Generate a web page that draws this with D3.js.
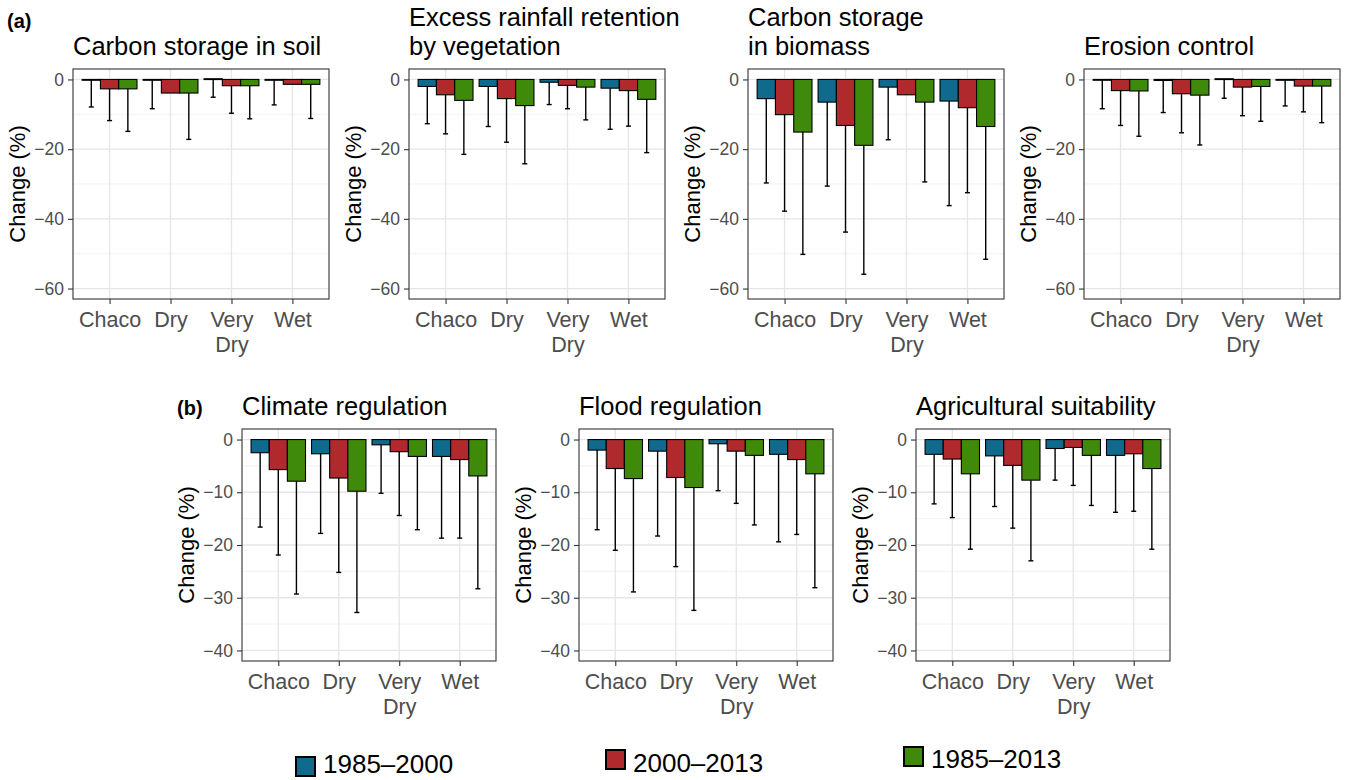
<!DOCTYPE html>
<html>
<head>
<meta charset="utf-8">
<script src="https://cdn.jsdelivr.net/npm/d3@7"></script>
<style>
    body { margin: 0; background: #fff; }
    svg { display: block; font-family: "Liberation Sans", Arial, sans-serif; }
</style>
</head>
<body>
<svg id="grafico" width="1345" height="780"></svg>
<script>
// categorias y periodos
var regions = ["Chaco", "Dry", "Very Dry", "Wet"];
var periods = ["1985–2000", "2000–2013", "1985–2013"];
var periodColors = ["#0f6a8e", "#b0292d", "#408a0b"];

// valores: una fila por region, [1985-2000, 2000-2013, 1985-2013]
var soilMean = [[-0.1, -2.7, -2.7], [-0.1, -3.9, -3.9], [0.2, -1.8, -1.8], [-0.1, -1.4, -1.4]];
var soilLow = [[-7.9, -11.8, -14.9], [-8.4, -3.9, -17.2], [-5.1, -9.7, -11.3], [-7.3, -1.4, -11.2]];

var rainMean = [[-2.0, -4.4, -6.0], [-2.0, -5.5, -7.5], [-0.8, -1.7, -2.2], [-2.5, -3.2, -5.7]];
var rainLow = [[-12.7, -15.6, -21.5], [-13.5, -18.0, -24.2], [-7.2, -8.4, -11.6], [-14.3, -13.4, -21.0]];

var biomassMean = [[-5.5, -10.1, -15.1], [-6.5, -13.2, -18.9], [-2.2, -4.4, -6.5], [-6.2, -8.1, -13.5]];
var biomassLow = [[-29.7, -37.8, -50.2], [-30.6, -43.8, -55.9], [-17.3, -4.4, -29.4], [-36.2, -32.5, -51.6]];

var erosionMean = [[-0.1, -3.2, -3.3], [-0.3, -4.1, -4.5], [0.2, -2.2, -2.0], [-0.1, -1.9, -1.9]];
var erosionLow = [[-8.4, -13.2, -16.3], [-9.5, -15.3, -18.8], [-5.4, -10.4, -12.0], [-7.6, -9.3, -12.4]];

var climateMean = [[-2.5, -5.7, -7.9], [-2.7, -7.3, -9.8], [-1.0, -2.3, -3.2], [-3.2, -3.8, -6.9]];
var climateLow = [[-16.6, -21.9, -29.3], [-17.8, -25.2, -32.8], [-10.2, -14.4, -17.1], [-18.7, -18.7, -28.3]];

var floodMean = [[-2.0, -5.5, -7.4], [-2.2, -7.2, -9.1], [-0.8, -2.2, -3.0], [-2.8, -3.8, -6.5]];
var floodLow = [[-17.1, -21.0, -28.9], [-18.3, -24.1, -32.4], [-9.7, -12.1, -16.2], [-19.4, -18.0, -28.1]];

var agriMean = [[-2.8, -3.7, -6.5], [-3.1, -4.9, -7.7], [-1.7, -1.5, -3.0], [-3.0, -2.7, -5.5]];
var agriLow = [[-12.2, -14.8, -20.8], [-12.7, -16.8, -23.0], [-7.7, -8.7, -12.5], [-13.8, -13.6, -20.8]];

// ejes Y de cada fila
var ticksA = [0, -20, -40, -60];
var minorA = [-10, -30, -50];
var ticksB = [0, -10, -20, -30, -40];
var minorB = [-5, -15, -25, -35];

var svg = d3.select("#grafico");

// configuracion de los paneles (posicion y estilo aparte de los datos)
var rowA = { top: 69, height: 230, width: 256, domain: [-63, 3], major: ticksA, minor: minorA };
var rowB = { top: 429, height: 232, width: 254, domain: [-42, 2], major: ticksB, minor: minorB };

var panels = [
    { row: rowA, left: 73, title: ["Carbon storage in soil"], mean: soilMean, low: soilLow },
    { row: rowA, left: 409, title: ["Excess rainfall retention", "by vegetation"], mean: rainMean, low: rainLow },
    { row: rowA, left: 748, title: ["Carbon storage", "in biomass"], mean: biomassMean, low: biomassLow },
    { row: rowA, left: 1084, title: ["Erosion control"], mean: erosionMean, low: erosionLow },
    { row: rowB, left: 242, title: ["Climate regulation"], mean: climateMean, low: climateLow },
    { row: rowB, left: 579, title: ["Flood regulation"], mean: floodMean, low: floodLow },
    { row: rowB, left: 916, title: ["Agricultural suitability"], mean: agriMean, low: agriLow }
];

function drawPanel(p) {
    var top = p.row.top, h = p.row.height, w = p.row.width, left = p.left;
    var g = svg.append("g");

    var y = d3.scaleLinear().domain(p.row.domain).range([top + h, top]);
    var x = d3.scalePoint().domain(regions).range([left, left + w]).padding(0.6);
    var step = x.step();
    var xp = d3.scaleBand().domain(periods).range([-0.45 * step, 0.45 * step]);

    // lineas de la grilla
    g.selectAll(".minor").data(p.row.minor).enter().append("line")
        .attr("x1", left).attr("x2", left + w)
        .attr("y1", function (d) { return y(d); }).attr("y2", function (d) { return y(d); })
        .attr("stroke", "#ececec").attr("stroke-width", 0.7);
    g.selectAll(".major").data(p.row.major).enter().append("line")
        .attr("x1", left).attr("x2", left + w)
        .attr("y1", function (d) { return y(d); }).attr("y2", function (d) { return y(d); })
        .attr("stroke", "#e6e6e6").attr("stroke-width", 1.3);
    g.selectAll(".vgrid").data(regions).enter().append("line")
        .attr("x1", function (d) { return x(d); }).attr("x2", function (d) { return x(d); })
        .attr("y1", top).attr("y2", top + h)
        .attr("stroke", "#e6e6e6").attr("stroke-width", 1.3);

    // barras
    var bars = [];
    regions.forEach(function (r, i) {
        periods.forEach(function (per, j) {
            bars.push({ region: r, period: per, k: j, value: p.mean[i][j], low: p.low[i][j] });
        });
    });

    g.selectAll(".bar").data(bars).enter().append("rect")
        .attr("x", function (d) { return x(d.region) + xp(d.period); })
        .attr("width", xp.bandwidth())
        .attr("y", function (d) { return y(Math.max(d.value, 0)); })
        .attr("height", function (d) { return Math.max(Math.abs(y(d.value) - y(0)), 0.8); })
        .attr("fill", function (d) { return periodColors[d.k]; })
        .attr("stroke", "#000").attr("stroke-width", 1.1);

    // barras de error (solo hacia abajo)
    var errs = bars.filter(function (d) { return d.low < d.value; });
    var cx = function (d) { return x(d.region) + xp(d.period) + xp.bandwidth() / 2; };
    g.selectAll(".err").data(errs).enter().append("line")
        .attr("x1", cx).attr("x2", cx)
        .attr("y1", function (d) { return y(d.value); })
        .attr("y2", function (d) { return y(d.low); })
        .attr("stroke", "#000").attr("stroke-width", 1.4);
    g.selectAll(".cap").data(errs).enter().append("line")
        .attr("x1", function (d) { return cx(d) - 2.5; })
        .attr("x2", function (d) { return cx(d) + 2.5; })
        .attr("y1", function (d) { return y(d.low); })
        .attr("y2", function (d) { return y(d.low); })
        .attr("stroke", "#000").attr("stroke-width", 1.4);

    // borde del panel
    g.append("rect")
        .attr("x", left).attr("y", top).attr("width", w).attr("height", h)
        .attr("fill", "none").attr("stroke", "#444").attr("stroke-width", 1.2);

    // eje Y
    var ay = g.append("g")
        .attr("transform", "translate(" + left + ",0)")
        .call(d3.axisLeft(y).tickValues(p.row.major).tickSize(5).tickPadding(4));
    ay.select(".domain").remove();
    ay.selectAll("line").attr("stroke", "#333").attr("stroke-width", 1.1);
    ay.selectAll("text").attr("fill", "#4d4d4d").style("font-size", "17.5px").style("font-family", null);

    // eje X
    var ax = g.append("g")
        .attr("transform", "translate(0," + (top + h) + ")")
        .call(d3.axisBottom(x).tickSize(5));
    ax.select(".domain").remove();
    ax.selectAll("line").attr("stroke", "#333").attr("stroke-width", 1.1);
    ax.selectAll("text").each(function (d) {
        var t = d3.select(this).text(null).attr("y", null).attr("dy", null)
            .attr("fill", "#4d4d4d").style("font-size", "21.5px").style("font-family", null);
        d.split(" ").forEach(function (word, k) {
            t.append("tspan").attr("x", 0).attr("y", 28 + k * 24.5).text(word);
        });
    });

    // titulo del eje Y
    g.append("text")
        .attr("transform", "translate(" + (left - 48.5) + "," + (top + h / 2) + ") rotate(-90)")
        .attr("text-anchor", "middle")
        .style("font-size", "22px")
        .text("Change (%)");

    // titulo del panel
    var n = p.title.length;
    p.title.forEach(function (line, k) {
        g.append("text")
            .attr("x", left)
            .attr("y", top - 14 - (n - 1 - k) * 29)
            .style("font-size", "25.5px")
            .text(line);
    });
}

panels.forEach(drawPanel);

// etiquetas (a) y (b)
svg.append("text").attr("x", 7).attr("y", 28)
    .style("font-size", "20px").style("font-weight", "bold").text("(a)");
svg.append("text").attr("x", 177).attr("y", 415)
    .style("font-size", "20px").style("font-weight", "bold").text("(b)");

// leyenda (las cajas estan escalonadas como en el original)
var legendPos = [[296, 757, 773], [606, 750, 772], [904, 747, 768]];
var legend = svg.selectAll(".legend").data(periods).enter().append("g");
legend.append("rect")
    .attr("x", function (d, i) { return legendPos[i][0]; })
    .attr("y", function (d, i) { return legendPos[i][1]; })
    .attr("width", 19).attr("height", 19)
    .attr("fill", function (d, i) { return periodColors[i]; })
    .attr("stroke", "#000").attr("stroke-width", 2);
legend.append("text")
    .attr("x", function (d, i) { return legendPos[i][0] + 27; })
    .attr("y", function (d, i) { return legendPos[i][2]; })
    .style("font-size", "26px")
    .text(function (d) { return d; });
</script>
</body>
</html>
